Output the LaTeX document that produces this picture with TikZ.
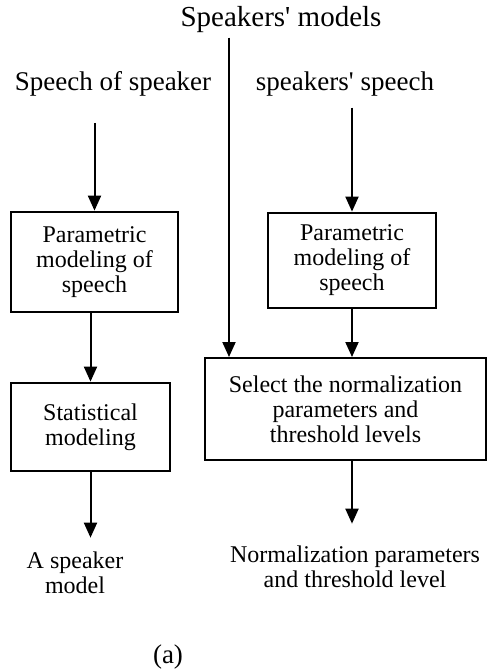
\documentclass[tikz,border=0pt]{standalone}
\usepackage{fontspec}
\setmainfont{Liberation Serif}
\usetikzlibrary{arrows.meta}
\begin{document}
\begin{tikzpicture}[x=0.5pt, y=-0.5pt]
      \tikzstyle{tnode} = [inner sep = 0pt, align=center, font=\fontsize{12}{12.5}\selectfont]
      \tikzstyle{lnode} = [inner sep = 0pt, font=\fontsize{13.5}{15}\selectfont]
      \tikzstyle{bnode} = [line width=1.4pt, draw=black, rectangle, align=center, inner sep = 0pt, font=\fontsize{12}{12.5}\selectfont]
      \tikzstyle{arr} = [line width=1pt, -{Triangle[width=6.5pt,length=7.5pt]}]

      \useasboundingbox (0,0) rectangle (488,671);

      %%%%%%%%%%%%%%%%%%%%%%%%%%%%%%
      %% Inputs
      %%%%%%%%%%%%%%%%%%%%%%%%%%%%%%
      \node[lnode, font=\fontsize{14.5}{16}\selectfont] (models) at (281,20) {Speakers\textquotesingle{} models};
      \node[lnode] (spk) at (113,84) {Speech of speaker};
      \node[lnode] (spks) at (345,84) {speakers\textquotesingle{} speech};
      \coordinate (tap) at (229,0);

      %%%%%%%%%%%%%%%%%%%%%%%%%%%%%%
      %% Left branch
      %%%%%%%%%%%%%%%%%%%%%%%%%%%%%%
      \node[bnode, minimum width=83.5pt, minimum height=50pt] (b1) at (94.5,262) {Parametric\\modeling of\\speech};
      \node[bnode, minimum width=79.5pt, minimum height=44pt] (b2) at (90.5,427) {Statistical\\modeling};
      \node[tnode] (out1) at (75,573) {A speaker\\model};

      %%%%%%%%%%%%%%%%%%%%%%%%%%%%%%
      %% Right branch
      %%%%%%%%%%%%%%%%%%%%%%%%%%%%%%
      \node[bnode, minimum width=84pt, minimum height=47.5pt] (r1) at (352,260.5) {Parametric\\modeling of\\speech};
      \node[bnode, line width=1pt, minimum width=140.5pt, minimum height=51pt] (sel) at (345.5,409) {Select the normalization\\parameters and\\threshold levels};
      \node[tnode] (out2) at (355,567) {Normalization parameters\\and threshold level};

      \node[lnode] (cap) at (168,657) {(a)};

      % edges left
      \draw[arr, shorten <=13pt] (b1.north |- spk.south) -- (b1.north);
      \draw[arr] (b1.south -| b2.north) -- (b2.north);
      \draw[arr, shorten >=7pt] (b2.south) -- (b2.south |- out1.north);

      % edges right
      \draw[arr, shorten <=2pt] (tap |- models.south) -- (tap |- sel.north);
      \draw[arr, shorten <=5.5pt] (r1.north |- spks.south) -- (r1.north);
      \draw[arr] (r1.south) -- (r1.south |- sel.north);
      \draw[arr, shorten >=11pt] (r1.south |- sel.south) -- (r1.south |- out2.north);

    \end{tikzpicture}
\end{document}
